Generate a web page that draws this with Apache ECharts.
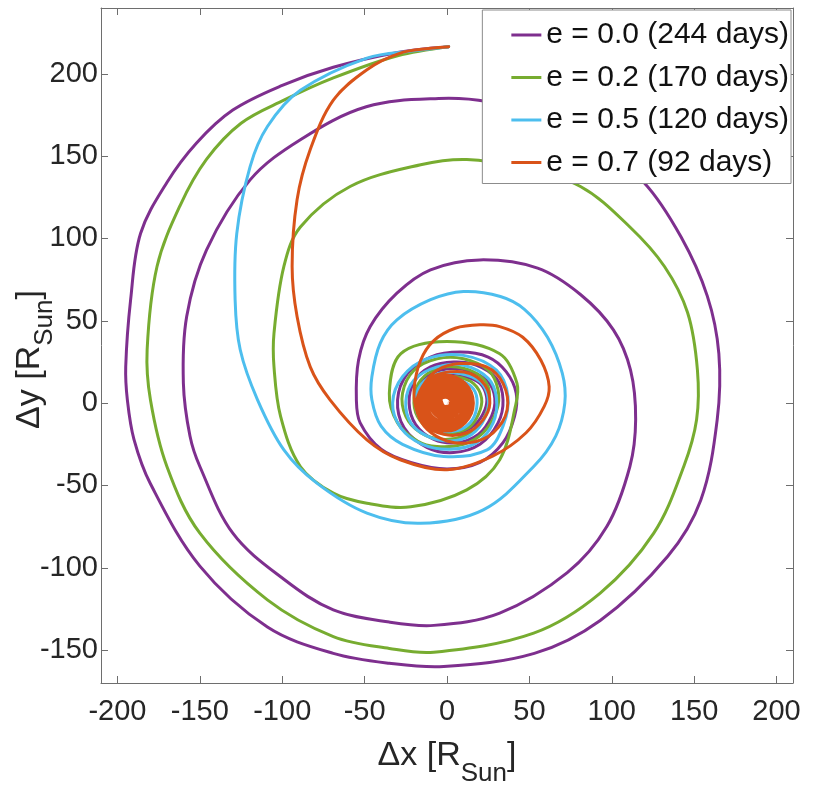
<!DOCTYPE html>
<html><head><meta charset="utf-8">
<script src="https://cdn.jsdelivr.net/npm/echarts@6/dist/echarts.min.js"></script>
<style>html,body{margin:0;padding:0;background:#fff}#c{width:830px;height:812px}</style>
</head><body><div id="c"></div>
<script>
const seriesNames = ['e = 0.0 (244 days)', 'e = 0.2 (170 days)', 'e = 0.5 (120 days)', 'e = 0.7 (92 days)'];
const seriesColors = ['#7E2F8E', '#77AC30', '#4DBEEE', '#D95319'];
const xTicks = [-200, -150, -100, -50, 0, 50, 100, 150, 200];
const yTicks = [-150, -100, -50, 0, 50, 100, 150, 200];

const e00XY = [
  [1,216.5],[-30,213],[-69,204],[-100,193],[-130,178],[-152,158],[-170,134],[-186,103],[-192,63],[-195,22],[-194,2],[-190,-22],[-180,-49],[-150,-99],[-109,-136],[-69,-152],[-35,-158],[-2,-160],[53,-152],[93,-132],[134,-93],[154,-59],[164,-10],[165,30],[158,65],[142,101],[119.5,134],[90,157],[60,173],[25,183],[-5,185],
  [-49,180],[-89,160],[-119.5,135.6],[-146,93],[-158,52.6],[-160,12],[-156,-20],[-150,-38.5],[-130,-79],[-99,-107],[-69,-125.6],[-35,-133],[-8,-135],[32,-127.6],[73,-103],[97,-75],[111,-38.5],[114.5,-10],[111.4,20],[101,44.5],[81,66],[55,82],[20,87],[-10,81],[-30.4,66.8],[-46.6,46.5],[-53.7,26],[-55,2],
  [-52.7,-12],[-40,-28],[-22,-36],[0,-40],[20,-36],[34,-24],[41,-8],[42,6],[36,19],[25,28],[8,31],[-10,28],[-24,18],[-30,2],[-26,-15],[-12,-27],[4,-30],[20,-25],[31,-12],[34,2],[30,15],[18,23],[4,25],
  [-10,22],[-20,13],[-23,0],[-19,-13],[-8,-22],[6,-24],[19,-19],[27,-8],[29,3],[25,13],[15,19],[3,21],[-9,18],[-17,10],[-19,0],[-15,-11],[-5,-17],[7,-18],[17,-13],[23,-4],[24,4],[20,12],[11,16],[0,17]
];
const e02XY = [
  [1,216.5],[-30,211],[-69,197.5],[-99,184],[-125,170],[-146,148],[-162,120],[-176,83],[-182,32.4],[-180,2],[-170,-38.5],[-150,-79],[-109,-119.5],[-69,-141.8],[-35,-149],[-8,-151.3],[52.6,-139.7],[93,-115.4],[125.5,-79],[143.7,-38.5],[151.5,-10],[152,20],[146,55],[132,83],[111,107],[81,131.6],[45,143],[12,148],[-16,144.8],
  [-58.8,131.6],[-89,107],[-99,83],[-105,42.5],[-105,22],[-101,-8],[-89,-38.5],[-69,-54.7],[-48.6,-60.8],[-22,-63],[12,-52.7],[32,-34.4],[41.5,-2],[42.5,12],[32,30],[0,37.4],[-28,30],[-35,6],[-30,-12],[-18,-23],[-6,-26.4],[10,-25],[22,-18],[30,-5],[31,8],[25,20],[10,27],[-6,27],[-20,20],[-27,6],[-25,-8],[-16,-18],[-3,-22],[10,-20],[20,-13],[25,-2],[25,10],[18,18],[6,22],[-6,21],[-16,14],[-20,3],[-18,-8],[-10,-16],[2,-18],[13,-15],[19,-7],[21,3],[16,12],[6,16],[-4,16]
];
const e05XY = [
  [1,216.5],[-20,214],[-48.6,209.6],[-89,190],[-109,168],[-119.5,143.7],[-127.6,103],[-128.6,62.8],[-125.5,32.4],[-115,2],[-99,-28.4],[-79,-48.6],[-48.6,-66.8],[-16,-73],[22,-64.8],[52.6,-38.5],[66,-20],[71.5,0],[70,18],[61,40],[47,57],[32.4,64.8],[10,67.8],[-10,62.8],[-30.4,50.6],[-40.5,36.5],[-45.6,16],[-45.6,2],
  [-40,-14],[-27,-25],[-2,-32.4],[24.3,-28.4],[34,-14],[37,4],[30,20],[10,29],[-12,27],[-27,16],[-33,0],[-28,-15],[-15,-25],[2,-28],[18,-24],[28,-12],[30,3],[25,15],[10,23],[-6,22],[-20,14],[-25,1],[-22,-12],[-12,-20],[2,-23],[15,-19],[23,-9],[25,3],[20,13],[8,18],[-5,18],[-16,11],[-19,0],[-16,-10],[-7,-16],[5,-17],[14,-12],[18,-3],[17,7],[10,13],[0,14]
];
const e07XY = [
  [1,216.5],[-10,215.5],[-28.4,212.6],[-48.6,202.5],[-69,184],[-83,154],[-91,123.5],[-94,83],[-91,52.6],[-83,22],[-71,2],[-48.6,-22.3],[-28.4,-34.4],[0,-40.5],[28,-32],[48,-18],[59,-2],[62,10],[57,26],[46,40],[32,46.5],[20,47.6],[5,45.5],[-8,38],[-16,26],[-20,8],[-18,-6],[-12,-16],[0,-23],[14,-24],[28,-18],[36.5,-4],[34,12],[24,22],[8,24],
  [-6,20],[-15,10],[-18.5,-1],[-14,-12],[-2,-19],[12,-18],[22,-10],[26,0],[23,11],[14,18],[2,19],[-10,15],
  [-18,0],[-13,-12],[-1,-17],[11,-12],[16,0],[11,12],[-1,17],[-13,12],
  [-16.5,0],[-12,-11],[-1,-15.5],[10,-11],[14.5,0],[10,11],[-1,15.5],[-12,11],
  [-15,0],[-11,-10],[-1,-14],[9,-10],[13,0],[9,10],[-1,14],[-11,10],
  [-13.5,0],[-10,-9],[-1,-12.5],[8,-9],[11.5,0],[8,9],[-1,12.5],[-10,9],
  [-12,0],[-9,-8],[-1,-11],[7,-8],[10,0],[7,8],[-1,11],[-9,8],
  [-10.5,0],[-7.5,-6.7],[-1,-9.5],[5.7,-6.7],[8.5,0],[5.7,6.7],[-1,9.5],[-7.7,6.7],
  [-9,0],[-6.7,-5.7],[-1,-8],[4.7,-5.7],[7,0],[4.7,5.7],[-1,8],[-6.7,5.7],
  [-7.5,0],[-5.6,-4.6],[-1,-6.5],[3.6,-4.6],[5.5,0],[3.6,4.6],[-1,6.5],[-5.6,4.6],
  [-6,0],[-4.5,-3.5],[-1,-5],[2.5,-3.5],[4,0],[2.5,3.5],[-1,5],[-4.5,3.5],
  [-4.5,0],[-3.5,-2.5],[-1,-3.5],[1.5,-2.5],[2.5,0],[1.5,2.5],[-1,3.5],[-3.5,2.5],
  [-3,0],[-2.4,-1.4],[-1,-2],[0.4,-1.4],[1,0]
];
const sunXY = [[0, 0]];

const FONT = 'Liberation Sans, Arial, Helvetica, sans-serif';
const AX = '#6e6e6e';
const TXT = '#262626';

function mkAxis(pos, ticks, showLabel, extra) {
  return Object.assign({
    type: 'value', position: pos,
    axisLine: { show: true, onZero: false, lineStyle: { color: AX, width: 1 } },
    axisTick: { show: true, inside: true, length: 7, customValues: ticks, lineStyle: { color: AX } },
    axisLabel: { show: showLabel, customValues: ticks, color: TXT, fontSize: 29, fontFamily: FONT },
    splitLine: { show: false }
  }, extra);
}

function makeRender(points, color) {
  return function (params, api) {
    if (params.dataIndex !== 0) return null;
    const pts = points.map(p => api.coord(p));
    return {
      type: 'polyline',
      shape: { points: pts, smooth: 0.35 },
      style: { stroke: color, lineWidth: 3, fill: null, lineJoin: 'round', lineCap: 'round' }
    };
  };
}

const chart = echarts.init(document.getElementById('c'));
const allData = [e00XY, e02XY, e05XY, e07XY];
const seriesList = allData.map((d, i) => ({
  name: seriesNames[i], type: 'custom', data: d,
  encode: { x: 0, y: 1 },
  renderItem: makeRender(d, seriesColors[i]),
  itemStyle: { color: seriesColors[i] },
  clip: true, z: 2 + i, animation: false
}));
seriesList.push({
  type: 'scatter', data: sunXY, symbolSize: 4, itemStyle: { color: '#ffffff' }, z: 10, silent: true, animation: false
});

const nameRich = {
  a: { fontSize: 34, color: TXT, fontFamily: FONT },
  s: { fontSize: 26, color: TXT, fontFamily: FONT, padding: [36, 0, 0, 0] }
};
const nameRichY = {
  a: { fontSize: 34, color: TXT, fontFamily: FONT },
  s: { fontSize: 26, color: TXT, fontFamily: FONT, padding: [30, 0, 0, 0] }
};

chart.setOption({
  animation: false,
  backgroundColor: '#ffffff',
  grid: { left: 101, top: 8, right: 37, bottom: 129, containLabel: false, outerBoundsMode: 'none' },
  legend: {
    orient: 'vertical', right: 39, top: 10,
    data: seriesNames.map(n => ({ name: n, icon: 'rect' })),
    itemWidth: 30, itemHeight: 3, itemGap: 12.5,
    padding: [10, 2, 6, 29],
    backgroundColor: '#ffffff', borderColor: '#8c8c8c', borderWidth: 1,
    textStyle: { fontSize: 30, color: '#111', fontFamily: FONT, lineHeight: 30 }
  },
  xAxis: [
    mkAxis('bottom', xTicks, true, {
      min: -210, max: 210,
      name: '{a|Δx [R}{s|Sun}{a|]}', nameLocation: 'middle', nameGap: 42,
      nameTextStyle: { rich: nameRich },
      axisLabel: { show: true, customValues: xTicks, color: TXT, fontSize: 29, fontFamily: FONT, margin: 14 }
    }),
    mkAxis('top', xTicks, false, { min: -210, max: 210 })
  ],
  yAxis: [
    mkAxis('left', yTicks, true, {
      min: -170, max: 240,
      name: '{a|Δy [R}{s|Sun}{a|]}', nameLocation: 'middle', nameGap: 43, nameRotate: 90,
      nameMoveOverlap: false,
      nameTextStyle: { rich: nameRichY, padding: [0, 28, 0, 0] },
      axisLabel: { show: true, customValues: yTicks, color: TXT, fontSize: 29, fontFamily: FONT, margin: 3 }
    }),
    mkAxis('right', yTicks, false, { min: -170, max: 240 })
  ],
  series: seriesList
});
</script></body></html>
